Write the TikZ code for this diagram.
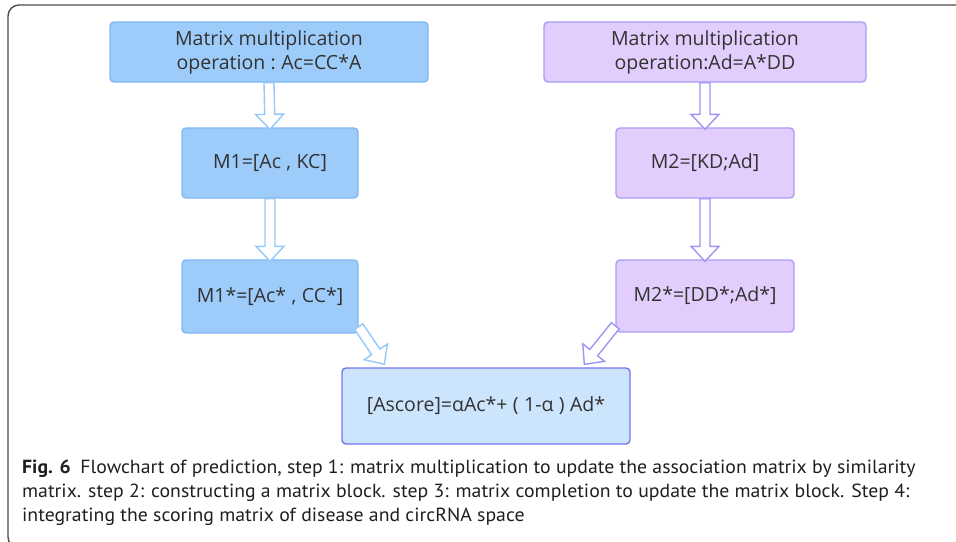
\documentclass[tikz,border=0pt]{standalone}
\usepackage{fontspec}
\setmainfont{Open Sans}
\newfontfamily\capfont[FakeStretch=1.04]{PT Sans}
\usetikzlibrary{calc}
\definecolor{bfill}{RGB}{158,204,250}
\definecolor{bdraw}{RGB}{128,184,244}
\definecolor{barr}{RGB}{150,200,250}
\definecolor{pfill}{RGB}{226,205,252}
\definecolor{pdraw}{RGB}{168,158,246}
\definecolor{parr}{RGB}{158,150,242}
\definecolor{sfill}{RGB}{204,229,253}
\definecolor{sdraw}{RGB}{118,118,236}
\definecolor{txt}{RGB}{50,50,50}
\tikzset{
  boxbase/.style={rectangle, rounded corners=4pt, line width=1.4pt, align=center,
    text=txt, font=\fontsize{19.5}{24}\selectfont, inner sep=0pt},
  bluebox/.style={boxbase, draw=bdraw, fill=bfill},
  purplebox/.style={boxbase, draw=pdraw, fill=pfill},
  scorebox/.style={boxbase, draw=sdraw, fill=sfill},
  bluearr/.style={draw=barr, fill=white, line width=1.4pt, line join=miter},
  purparr/.style={draw=parr, fill=white, line width=1.4pt, line join=miter},
  captext/.style={anchor=base west, inner sep=0pt, text=black!88,
    font=\capfont\fontsize{19}{24}\selectfont},
}
% hollow block arrow: #1 start, #2 end, #3 style
\newcommand\blockarr[3]{%
  \path[#3] let \p1=#1, \p2=#2,
    \n1={atan2(\y2-\y1,\x2-\x1)}, \n2={veclen(\x2-\x1,\y2-\y1)} in
    ($(\p1)+(\n1+90:5pt)$) -- ++(\n1:\n2-15pt) -- ++(\n1+90:9pt)
    -- ($(\p1)+(\n1:\n2)$)
    -- ($(\p1)+(\n1:\n2-15pt)+(\n1-90:14pt)$) -- ++(\n1+90:9pt)
    -- ($(\p1)+(\n1-90:5pt)$) -- cycle;}
\begin{document}
\begin{tikzpicture}[x=1pt,y=-1pt]
\useasboundingbox (0,0) rectangle (956,541);
\begin{scope}
\clip (0,0) rectangle (956,541);
\draw[line width=1.4pt, draw=black!70, rounded corners=11pt]
  (970,5) -- (8,5) -- (8,548) -- (60,548);
\end{scope}

\node[bluebox, minimum width=318pt, minimum height=60pt] (a) at (269,52)
  {Matrix multiplication\\operation\;:\;Ac=CC*A};
\node[purplebox, minimum width=322pt, minimum height=60pt] (b) at (705,52)
  {Matrix multiplication\\operation:Ad=A*DD};
\node[bluebox, minimum width=176pt, minimum height=70pt] (m1) at (270,163)
  {M1=[Ac\;,\;KC]};
\node[purplebox, minimum width=178pt, minimum height=70pt] (m2) at (705,163)
  {M2=[KD;Ad]};
\node[bluebox, minimum width=176pt, minimum height=73pt] (m1s) at (270,296.5)
  {M1*=[Ac*\;,\;CC*]};
\node[purplebox, minimum width=178pt, minimum height=72pt] (m2s) at (705,296)
  {M2*=[DD*;Ad*]};
\node[scorebox, minimum width=288pt, minimum height=76pt] (sc) at (486,406)
  {[Ascore]=αAc*+\;(\;1-α\;)\;Ad*};

\blockarr{(a.south)}{($(m1.north)+(0,2)$)}{bluearr}
\blockarr{(m1.south)}{($(m1s.north)+(0,2)$)}{bluearr}
\blockarr{(b.south)}{($(m2.north)+(0,2)$)}{purparr}
\blockarr{(m2.south)}{($(m2s.north)+(0,2)$)}{purparr}
\blockarr{($(m1s.south east)+(0,-7)$)}{($(sc.north west)+(43,-3)$)}{bluearr}
\blockarr{($(m2s.south west)+(0,-7)$)}{($(sc.north west)+(243,-3)$)}{purparr}

\node[captext] (c1) at (22,473)
  {\textbf{Fig. 6}\enspace Flowchart of prediction, step 1: matrix multiplication to update the association matrix by similarity};
\node[captext] (c2) at (22,497)
  {matrix. step 2: constructing a matrix block. step 3: matrix completion to update the matrix block. Step 4:};
\node[captext] (c3) at (22,521)
  {integrating the scoring matrix of disease and circRNA space};
\end{tikzpicture}
\end{document}
